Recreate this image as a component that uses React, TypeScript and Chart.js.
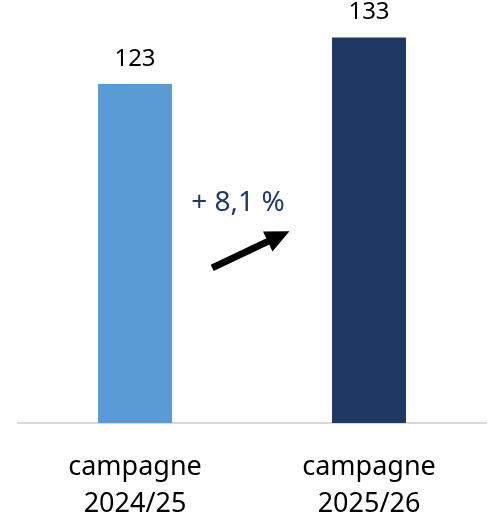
import React, { useEffect, useRef } from "react";
import { Chart, registerables } from "chart.js";

Chart.register(...registerables);

const categories: string[][] = [["campagne", "2024/25"], ["campagne", "2025/26"]];
const values: number[] = [123, 133];
const valueLabels: string[] = ["123", "133"];
const barColors: string[] = ["#5b9bd5", "#203864"];
const changeLabel = "+ 8,1 %";
// annotation anchors in data coordinates (category index, value)
const changeTextPos = { x: 0.44, y: 97.4 };
const arrowFrom = { x: 0.33, y: 83.4 };
const arrowTo = { x: 0.66, y: 91.3 };

const FONT = "'Noto Sans', sans-serif";

export default function App() {
  const ref = useRef<HTMLCanvasElement | null>(null);
  useEffect(() => {
    document.body.style.margin = "0";
    const canvas = ref.current!;
    const overlay = {
      id: "overlay",
      afterDatasetsDraw(chart: any) {
        const ctx = chart.ctx;
        const xs = chart.scales.x;
        const ys = chart.scales.y;
        ctx.save();
        ctx.font = `24px ${FONT}`;
        ctx.fillStyle = "#000";
        ctx.textAlign = "center";
        ctx.textBaseline = "middle";
        const meta = chart.getDatasetMeta(0);
        meta.data.forEach((bar: any, i: number) => {
          ctx.fillText(valueLabels[i], bar.x, bar.y - 25);
        });
        ctx.font = `28px ${FONT}`;
        ctx.fillStyle = "#22396a";
        ctx.fillText(changeLabel, xs.getPixelForValue(changeTextPos.x), ys.getPixelForValue(changeTextPos.y));
        const x1 = xs.getPixelForValue(arrowFrom.x);
        const y1 = ys.getPixelForValue(arrowFrom.y);
        const x2 = xs.getPixelForValue(arrowTo.x);
        const y2 = ys.getPixelForValue(arrowTo.y);
        const ang = Math.atan2(y2 - y1, x2 - x1);
        const headLen = 24;
        const headW = 11;
        const bx = x2 - headLen * Math.cos(ang);
        const by = y2 - headLen * Math.sin(ang);
        ctx.strokeStyle = "#000";
        ctx.lineWidth = 7;
        ctx.beginPath();
        ctx.moveTo(x1, y1);
        ctx.lineTo(bx + 2 * Math.cos(ang), by + 2 * Math.sin(ang));
        ctx.stroke();
        ctx.fillStyle = "#000";
        ctx.beginPath();
        ctx.moveTo(x2, y2);
        ctx.lineTo(bx + headW * Math.sin(ang), by - headW * Math.cos(ang));
        ctx.lineTo(bx - headW * Math.sin(ang), by + headW * Math.cos(ang));
        ctx.closePath();
        ctx.fill();
        ctx.restore();
      },
    };
    const chart = new Chart(canvas, {
      type: "bar",
      data: {
        labels: categories,
        datasets: [
          {
            data: values,
            backgroundColor: barColors,
            borderWidth: 0,
            barPercentage: 0.316,
            categoryPercentage: 1,
          },
        ],
      },
      options: {
        animation: false,
        responsive: false,
        maintainAspectRatio: false,
        layout: { padding: { top: 5, left: 18, right: 2, bottom: 0 } },
        plugins: { legend: { display: false }, tooltip: { enabled: false } },
        scales: {
          y: { display: false, min: 50, max: 140 },
          x: {
            grid: { display: false, drawTicks: false },
            border: { display: true, color: "#d9d9d9", width: 2 },
            ticks: {
              color: "#000",
              padding: 26,
              font: { family: FONT, size: 27, lineHeight: 1.37 },
              maxRotation: 0,
            },
          },
        },
      },
      plugins: [overlay],
    });
    return () => chart.destroy();
  }, []);
  return (
    <div style={{ width: 488, height: 517, overflow: "hidden" }}>
      <canvas ref={ref} width={488} height={549} style={{ display: "block" }} />
    </div>
  );
}
